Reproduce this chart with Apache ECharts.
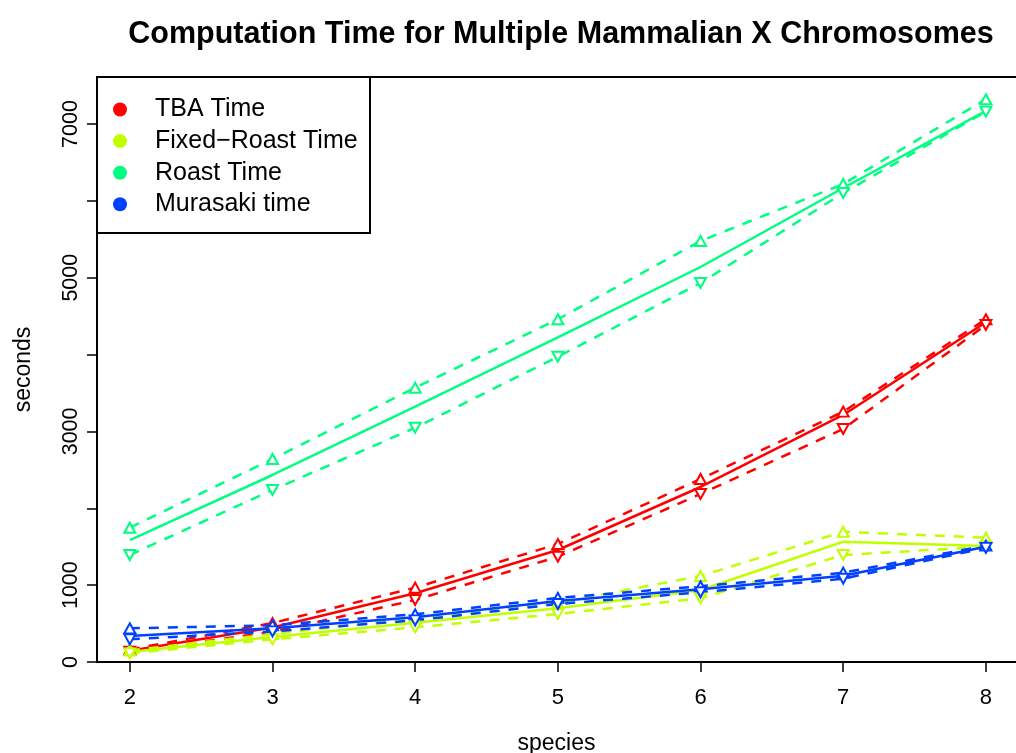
<!DOCTYPE html>
<html>
<head>
<meta charset="utf-8">
<title>Computation Time for Multiple Mammalian X Chromosomes</title>
<script src="https://cdn.jsdelivr.net/npm/echarts@6/dist/echarts.min.js"></script>
<style>
  html, body { margin: 0; padding: 0; background: #fff; }
  #chart { width: 1016px; height: 753px; }
</style>
</head>
<body>
<div id="chart"></div>
<script>
// Number of species in each alignment run
const species = [2, 3, 4, 5, 6, 7, 8];

// Run times in seconds: mean (solid) with upper / lower bounds (dashed)
const tbaMean = [147, 448, 894, 1457, 2277, 3214, 4420];
const tbaHigh = [162, 507, 967, 1535, 2381, 3257, 4459];
const tbaLow  = [135, 390, 807, 1370, 2186, 3032, 4385];

const fixedMean = [130, 325, 512, 698, 937, 1565, 1509];
const fixedHigh = [150, 364, 572, 768, 1119, 1695, 1617];
const fixedLow  = [112, 295, 451, 625, 829, 1392, 1500];

const roastMean = [1587, 2433, 3322, 4223, 5139, 6167, 7170];
const roastHigh = [1747, 2641, 3569, 4459, 5478, 6219, 7321];
const roastLow  = [1392, 2238, 3048, 3972, 4931, 6102, 7160];

const murasakiMean = [338, 438, 581, 794, 946, 1123, 1500];
const murasakiHigh = [438, 478, 620, 834, 985, 1162, 1515];
const murasakiLow  = [295, 398, 542, 754, 907, 1084, 1485];

// Axis ticks and which of them carry a label
const xTicks = [2, 3, 4, 5, 6, 7, 8];
const yTicks = [0, 1000, 2000, 3000, 4000, 5000, 6000, 7000];
const yTickLabels = [0, 1000, 3000, 5000, 7000];

const groups = [
  { name: 'TBA Time',              color: '#FF0000', mean: tbaMean,      high: tbaHigh,      low: tbaLow },
  { name: 'Fixed\u2212Roast Time', color: '#BFFF00', mean: fixedMean,    high: fixedHigh,    low: fixedLow },
  { name: 'Roast Time',            color: '#00FF80', mean: roastMean,    high: roastHigh,    low: roastLow },
  { name: 'Murasaki time',         color: '#0040FF', mean: murasakiMean, high: murasakiHigh, low: murasakiLow }
];

const pairs = vals => species.map((s, i) => [s, vals[i]]);

const series = [];
groups.forEach(g => {
  series.push({
    name: g.name, type: 'line', data: pairs(g.mean),
    symbol: 'none', silent: true,
    lineStyle: { color: g.color, width: 2.5, type: 'solid' },
    itemStyle: { color: g.color }
  });
  series.push({
    name: g.name + ' (upper)', type: 'line', data: pairs(g.high),
    symbol: 'emptyTriangle', symbolSize: [11, 10], silent: true,
    lineStyle: { color: g.color, width: 2.5, type: [10, 9] },
    itemStyle: { color: g.color, borderColor: g.color, borderWidth: 2 }
  });
  series.push({
    name: g.name + ' (lower)', type: 'line', data: pairs(g.low),
    symbol: 'emptyTriangle', symbolSize: [11, 10], symbolRotate: 180, silent: true,
    lineStyle: { color: g.color, width: 2.5, type: [10, 9] },
    itemStyle: { color: g.color, borderColor: g.color, borderWidth: 2 }
  });
});

const font = '"Liberation Sans", Arial, Helvetica, sans-serif';
const frameLine = { show: true, onZero: false, lineStyle: { color: '#000', width: 2 } };

const chart = echarts.init(document.getElementById('chart'), null, { renderer: 'canvas' });
chart.setOption({
  animation: false,
  backgroundColor: '#fff',
  textStyle: { fontFamily: font, color: '#000' },
  title: {
    text: 'Computation Time for Multiple Mammalian X Chromosomes',
    left: 556, top: 14, textAlign: 'center',
    textStyle: { fontFamily: font, fontSize: 30.5, fontWeight: 'bold', color: '#000' }
  },
  grid: {
    left: 97, top: 77, right: 0, bottom: 91,
    show: false, containLabel: false, outerBoundsMode: 'none'
  },
  xAxis: [{
    type: 'value', min: 1.77, max: 8.211, position: 'bottom',
    name: 'species', nameLocation: 'middle', nameGap: 70,
    nameTextStyle: { fontFamily: font, fontSize: 23, color: '#000' },
    axisLine: frameLine,
    axisTick: { show: true, length: 10, customValues: xTicks, lineStyle: { color: '#000', width: 1.5 } },
    axisLabel: { customValues: xTicks, fontSize: 22, color: '#000', margin: 25, fontFamily: font },
    splitLine: { show: false }
  }, {
    // top edge of the plot frame
    type: 'value', min: 1.77, max: 8.211, position: 'top',
    axisLine: frameLine,
    axisTick: { show: false }, axisLabel: { show: false }, splitLine: { show: false }
  }],
  yAxis: {
    type: 'value', min: 0, max: 7611,
    name: 'seconds', nameLocation: 'middle', nameGap: 62, nameRotate: 90,
    nameTextStyle: { fontFamily: font, fontSize: 23, color: '#000' },
    axisLine: frameLine,
    axisTick: { show: true, length: 10, customValues: yTicks, lineStyle: { color: '#000', width: 1.5 } },
    axisLabel: {
      customValues: yTickLabels, rotate: 90, fontSize: 21.5, color: '#000', margin: 15, fontFamily: font,
      formatter: v => String(v)
    },
    splitLine: { show: false }
  },
  legend: {
    data: groups.map(g => g.name),
    orient: 'vertical', left: 113, top: 97, padding: 0,
    icon: 'circle', itemWidth: 14, itemHeight: 14, itemGap: 6.6,
    selectedMode: false,
    textStyle: { fontFamily: font, fontSize: 25, color: '#000', lineHeight: 22, padding: [0, 0, 0, 23] }
  },
  graphic: [{
    type: 'rect', z: 3, silent: true,
    shape: { x: 97, y: 77, width: 273, height: 156 },
    style: { fill: '#fff', stroke: '#000', lineWidth: 2 }
  }],
  series: series
});
</script>
</body>
</html>
